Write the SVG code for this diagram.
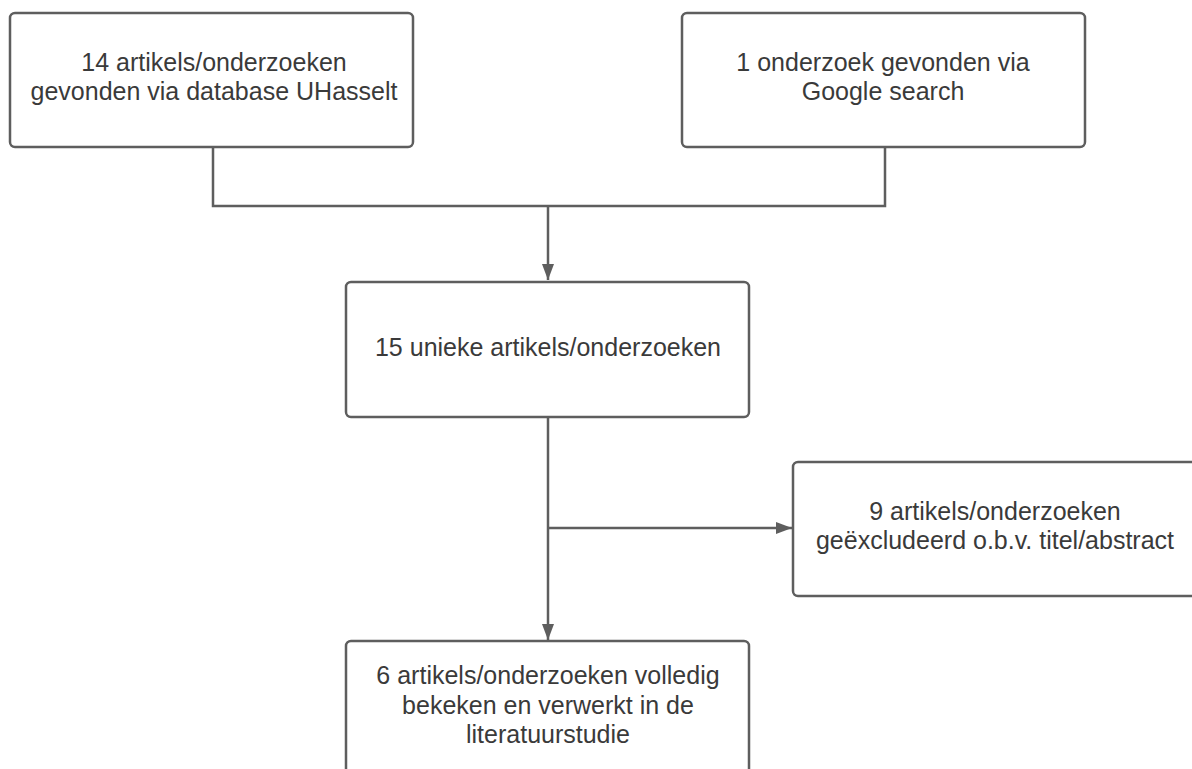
<svg xmlns="http://www.w3.org/2000/svg" width="1192" height="769" viewBox="0 0 1192 769">
<style>
.box{fill:#ffffff;stroke:#5e5e5e;stroke-width:2.5}
.ln{fill:none;stroke:#5e5e5e;stroke-width:2.5}
.t{font-family:"Liberation Sans",Arial,sans-serif;font-size:25px;fill:#3a3a3a;text-anchor:middle}
</style>
<defs>
<marker id="arr" viewBox="0 0 16 12" refX="16" refY="6" markerWidth="16" markerHeight="12" markerUnits="userSpaceOnUse" orient="auto">
<path d="M0,0 L16,6 L0,12 Z" fill="#5e5e5e"/>
</marker>
</defs>
<rect width="1192" height="769" fill="#ffffff"/>
<g id="connectors">
<path class="ln" d="M213,147 V206 H885 V147"/>
<path class="ln" d="M548,206 V280" marker-end="url(#arr)"/>
<path class="ln" d="M548,418 V640" marker-end="url(#arr)"/>
<path class="ln" d="M548,528 H792" marker-end="url(#arr)"/>
</g>
<g id="n1">
<rect class="box" x="10" y="13" width="403" height="134" rx="5"/>
<text class="t" x="214" y="71">14 artikels/onderzoeken</text>
<text class="t" x="214" y="100">gevonden via database UHasselt</text>
</g>
<g id="n2">
<rect class="box" x="682" y="13" width="403" height="134" rx="5"/>
<text class="t" x="883" y="71">1 onderzoek gevonden via</text>
<text class="t" x="883" y="100">Google search</text>
</g>
<g id="n3">
<rect class="box" x="346" y="282" width="403" height="135" rx="5"/>
<text class="t" x="548" y="356">15 unieke artikels/onderzoeken</text>
</g>
<g id="n4">
<rect class="box" x="793" y="462" width="420" height="134" rx="5"/>
<text class="t" x="995" y="520">9 artikels/onderzoeken</text>
<text class="t" x="995" y="549">geëxcludeerd o.b.v. titel/abstract</text>
</g>
<g id="n5">
<rect class="box" x="346" y="641" width="403" height="140" rx="5"/>
<text class="t" x="548" y="684">6 artikels/onderzoeken volledig</text>
<text class="t" x="548" y="714">bekeken en verwerkt in de</text>
<text class="t" x="548" y="743">literatuurstudie</text>
</g>
</svg>
